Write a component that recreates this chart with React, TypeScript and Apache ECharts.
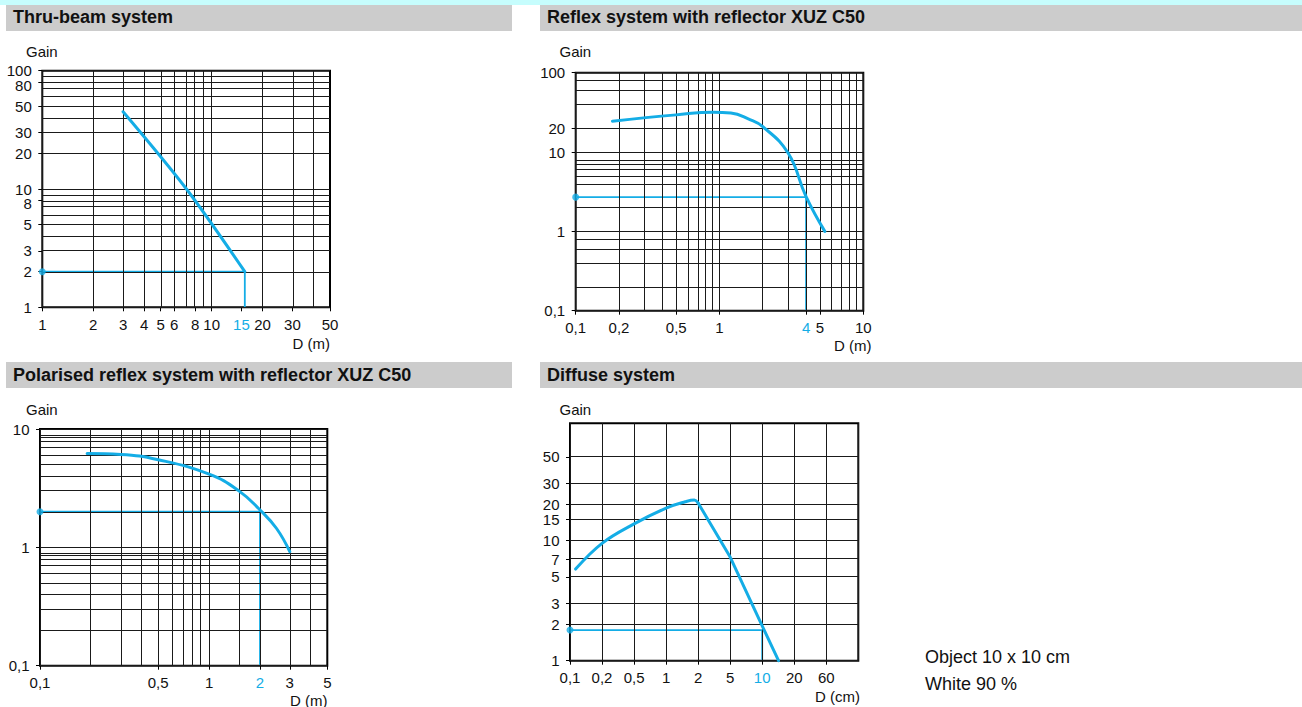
import React, { useEffect, useRef } from 'react';
import * as echarts from 'echarts';

const CYAN = '#14ade6';
const INK = '#111111';
const FONT = '"Liberation Sans", Arial, Helvetica, sans-serif';

// ---------- Thru-beam system ----------
const thruXTicks = [1, 2, 3, 4, 5, 6, 8, 10, 15, 20, 30, 50];
const thruYTicks = [1, 2, 3, 5, 8, 10, 20, 30, 50, 80, 100];
const thruXGrid = [1, 2, 3, 4, 5, 6, 7, 8, 9, 10, 20, 30, 40, 50];
const thruYGrid = [1, 2, 3, 4, 5, 6, 7, 8, 9, 10, 20, 30, 40, 50, 60, 70, 80, 90, 100];
const thruCurve = [[3, 45], [7.1, 10], [15.7, 2]];
const thruMarkX = 15.7;
const thruMarkGain = 2;
const thruHighlight = 15;

// ---------- Reflex system with reflector XUZ C50 ----------
const reflexXTicks = [0.1, 0.2, 0.5, 1, 4, 5, 10];
const reflexYTicks = [0.1, 1, 10, 20, 100];
const reflexXGrid = [0.1, 0.2, 0.3, 0.4, 0.5, 0.6, 0.7, 0.8, 0.9, 1, 2, 3, 4, 5, 6, 7, 8, 9, 10];
const reflexYGrid = [0.1, 0.2, 0.4, 0.6, 0.8, 1, 2, 4, 5, 6, 7, 8, 10, 20, 40, 60, 80, 100];
const reflexCurve = [[0.18, 24.5], [0.5, 29.4], [0.9, 31.8], [1.2, 31], [1.6, 26], [2, 20.9], [3, 9.7], [4, 2.74], [5.4, 1.0]];
const reflexMarkX = 4;
const reflexMarkGain = 2.7;
const reflexHighlight = 4;

// ---------- Polarised reflex system with reflector XUZ C50 ----------
const polXTicks = [0.1, 0.5, 1, 2, 3, 5];
const polYTicks = [0.1, 1, 10];
const polXGrid = [0.1, 0.2, 0.3, 0.4, 0.5, 0.6, 0.7, 0.8, 0.9, 1, 1.5, 2, 3, 4, 5];
const polYGrid = [0.1, 0.2, 0.3, 0.4, 0.5, 0.6, 0.7, 0.8, 0.85, 0.9, 1, 2, 3, 4, 5, 6, 7, 8, 8.5, 9, 10];
const polCurve = [[0.19, 6.2], [0.3, 6.1], [0.5, 5.5], [1, 4.15], [1.5, 3.0], [2, 2.07], [2.5, 1.45], [3, 0.92]];
const polMarkX = 2;
const polMarkGain = 2;
const polHighlight = 2;

// ---------- Diffuse system (x: evenly spaced graduations) ----------
const diffXNames = [0.1, 0.2, 0.5, 1, 2, 5, 10, 20, 60];
const diffXTicks = [0, 1, 2, 3, 4, 5, 6, 7, 8];
const diffXGrid = [0, 1, 2, 3, 4, 5, 6, 7, 8, 9];
const diffYTicks = [1, 2, 3, 5, 7, 10, 15, 20, 30, 50];
const diffYGrid = [1, 2, 3, 5, 7, 10, 15, 20, 30, 50, 95];
const diffCurveRise = [[0.175, 5.8], [1, 9.5], [2, 13.8], [3, 18.7], [3.6, 21.1], [3.88, 21.8], [4, 20.6]];
const diffCurveFall = [[4, 20.6], [5, 7.3], [6, 1.95], [6.51, 1]];
const diffMarkX = 6;
const diffMarkGain = 1.8;
const diffHighlight = 6;

const fmt = (v: number) => String(parseFloat(v.toPrecision(3))).replace('.', ',');

type Panel = {
  grid: { left: number; top: number; width: number; height: number };
  xLog: boolean;
  xMin: number; xMax: number; yMin: number; yMax: number;
  xTicks: number[]; yTicks: number[]; xGrid: number[]; yGrid: number[];
  curves: { data: number[][]; smooth: number }[];
  markX: number; markGain: number; highlight: number;
  xNames?: number[]; yNudge?: number[];
};

const panels: Panel[] = [
  {
    grid: { left: 42.3, top: 70.7, width: 287.7, height: 236.6 }, xLog: true,
    xMin: 1, xMax: 50, yMin: 1, yMax: 100,
    xTicks: thruXTicks, yTicks: thruYTicks, xGrid: thruXGrid, yGrid: thruYGrid,
    curves: [{ data: thruCurve, smooth: 0.3 }],
    markX: thruMarkX, markGain: thruMarkGain, highlight: thruHighlight, yNudge: [80, 8],
  },
  {
    grid: { left: 575.7, top: 72.7, width: 287.6, height: 238 }, xLog: true,
    xMin: 0.1, xMax: 10, yMin: 0.1, yMax: 100,
    xTicks: reflexXTicks, yTicks: reflexYTicks, xGrid: reflexXGrid, yGrid: reflexYGrid,
    curves: [{ data: reflexCurve, smooth: 0.45 }],
    markX: reflexMarkX, markGain: reflexMarkGain, highlight: reflexHighlight,
  },
  {
    grid: { left: 40, top: 429, width: 287.3, height: 236.7 }, xLog: true,
    xMin: 0.1, xMax: 5, yMin: 0.1, yMax: 10,
    xTicks: polXTicks, yTicks: polYTicks, xGrid: polXGrid, yGrid: polYGrid,
    curves: [{ data: polCurve, smooth: 0.45 }],
    markX: polMarkX, markGain: polMarkGain, highlight: polHighlight,
  },
  {
    grid: { left: 570, top: 423.3, width: 288.3, height: 237.4 }, xLog: false,
    xMin: 0, xMax: 9, yMin: 1, yMax: 95,
    xTicks: diffXTicks, yTicks: diffYTicks, xGrid: diffXGrid, yGrid: diffYGrid,
    curves: [{ data: diffCurveRise, smooth: 0.4 }, { data: diffCurveFall, smooth: 0 }],
    markX: diffMarkX, markGain: diffMarkGain, highlight: diffHighlight,
    xNames: diffXNames,
  },
];

function buildOption() {
  const grids: any[] = [];
  const xAxes: any[] = [];
  const yAxes: any[] = [];
  const series: any[] = [];

  panels.forEach((p, i) => {
    const tx = (v: number) => (p.xLog ? Math.log10(v) : v);
    const ty = (v: number) => Math.log10(v);
    const xMin = tx(p.xMin), xMax = tx(p.xMax), yMin = ty(p.yMin), yMax = ty(p.yMax);
    const hi = tx(p.highlight);
    const nudge = p.yNudge || [];

    grids.push({
      ...p.grid, show: true, borderColor: '#000', borderWidth: 2,
      backgroundColor: 'transparent', containLabel: false, outerBoundsMode: 'none',
    });

    const labelBase = { fontFamily: FONT, fontSize: 15 };
    xAxes.push({
      gridIndex: i, type: 'value', min: xMin, max: xMax,
      splitLine: { show: false }, axisLine: { show: false, onZero: false },
      axisTick: { show: true, length: 4, customValues: p.xTicks.map(tx), lineStyle: { color: '#000', width: 1 } },
      axisLabel: {
        ...labelBase, margin: 9.5, customValues: p.xTicks.map(tx),
        showMinLabel: true, showMaxLabel: true, hideOverlap: false,
        formatter: (v: number) => (p.xLog ? fmt(Math.pow(10, v)) : fmt((p.xNames as number[])[Math.round(v)])),
        color: (v: any) => (Math.abs(parseFloat(v) - hi) < 1e-6 ? CYAN : INK),
      },
    });
    yAxes.push({
      gridIndex: i, type: 'value', min: yMin, max: yMax,
      splitLine: { show: false }, axisLine: { show: false, onZero: false },
      axisTick: { show: true, length: 4, customValues: p.yTicks.map(ty), lineStyle: { color: '#000', width: 1 } },
      axisLabel: {
        ...labelBase, color: INK, margin: 10.5, customValues: p.yTicks.map(ty),
        showMinLabel: true, showMaxLabel: true, hideOverlap: false,
        formatter: (v: number) => {
          const val = parseFloat(Math.pow(10, v).toPrecision(3));
          const s = fmt(val);
          return nudge.indexOf(val) >= 0 ? '{dn|' + s + '}' : s;
        },
        rich: { dn: { fontFamily: FONT, fontSize: 15, color: INK, padding: [7, 0, 0, 0] } },
      },
    });

    // grid lines
    series.push({
      type: 'line', xAxisIndex: i, yAxisIndex: i, data: [[xMin, yMin]], showSymbol: false,
      lineStyle: { opacity: 0 }, silent: true, z: 1,
      markLine: {
        silent: true, symbol: ['none', 'none'], label: { show: false },
        lineStyle: { color: '#1a1a1a', width: 1, type: 'solid' },
        emphasis: { disabled: true },
        data: [
          ...p.xGrid.map((v) => ({ xAxis: tx(v) })),
          ...p.yGrid.map((v) => ({ yAxis: ty(v) })),
        ],
      },
    });
    // construction line (gain -> distance)
    series.push({
      type: 'line', xAxisIndex: i, yAxisIndex: i, clip: false, showSymbol: false, silent: true, z: 4,
      lineStyle: { color: CYAN, width: 1.8 },
      data: [[xMin, ty(p.markGain)], [tx(p.markX), ty(p.markGain)], [tx(p.markX), yMin]],
    });
    // curve(s)
    p.curves.forEach((c) => {
      series.push({
        type: 'line', xAxisIndex: i, yAxisIndex: i, clip: false, showSymbol: false, silent: true, z: 5,
        smooth: c.smooth,
        lineStyle: { color: CYAN, width: 3, cap: 'round', join: 'round' },
        data: c.data.map(([x, y]) => [tx(x), ty(y)]),
      });
    });
    // dot on gain axis
    series.push({
      type: 'scatter', xAxisIndex: i, yAxisIndex: i, clip: false, silent: true, z: 6,
      symbolSize: 7, itemStyle: { color: CYAN },
      data: [[xMin, ty(p.markGain)]],
    });
  });

  const txt = (text: string, x: number, y: number, size: number, align = 'left', bold = false, color = INK) => ({
    type: 'text', x, y, silent: true, z: 10,
    style: {
      text, fill: color, fontFamily: FONT, fontSize: size, fontWeight: bold ? 'bold' : 'normal',
      align, verticalAlign: 'middle', textAlign: align, textVerticalAlign: 'middle',
    },
  });
  const rect = (x: number, y: number, w: number, h: number, fill: string) => ({
    type: 'rect', shape: { x, y, width: w, height: h }, style: { fill }, silent: true, z: 0,
  });

  const graphic = [
    rect(0, 0, 1302, 5, '#c6fdfd'),
    rect(6, 5, 506, 26, '#cccccc'),
    rect(540, 5, 762, 26, '#cccccc'),
    rect(6, 362, 506, 26, '#cccccc'),
    rect(540, 362, 762, 26, '#cccccc'),
    txt('Thru-beam system', 13, 17, 18, 'left', true),
    txt('Reflex system with reflector XUZ C50', 547, 17, 18, 'left', true),
    txt('Polarised reflex system with reflector XUZ C50', 13, 374.5, 18, 'left', true),
    txt('Diffuse system', 547, 374.5, 18, 'left', true),
    txt('Gain', 26, 51, 15),
    txt('Gain', 559.5, 51, 15),
    txt('Gain', 26, 409, 15),
    txt('Gain', 559.5, 409, 15),
    txt('D (m)', 330, 343.5, 15, 'right'),
    txt('D (m)', 871.5, 345.5, 15, 'right'),
    txt('D (m)', 327.5, 700, 15, 'right'),
    txt('D (cm)', 860, 696, 15, 'right'),
    txt('Object 10 x 10 cm', 925, 657, 18),
    txt('White 90 %', 925, 683.5, 18),
  ];

  return {
    animation: false,
    backgroundColor: '#ffffff',
    grid: grids,
    xAxis: xAxes,
    yAxis: yAxes,
    series,
    graphic: { elements: graphic },
  };
}

export default function App() {
  const ref = useRef<HTMLDivElement>(null);
  useEffect(() => {
    if (!ref.current) return;
    const chart = echarts.init(ref.current, undefined, { renderer: 'svg' });
    chart.setOption(buildOption() as any);
    return () => chart.dispose();
  }, []);
  return (
    <div
      ref={ref}
      style={{ position: 'absolute', left: 0, top: 0, width: 1302, height: 707, background: '#fff' }}
    />
  );
}
